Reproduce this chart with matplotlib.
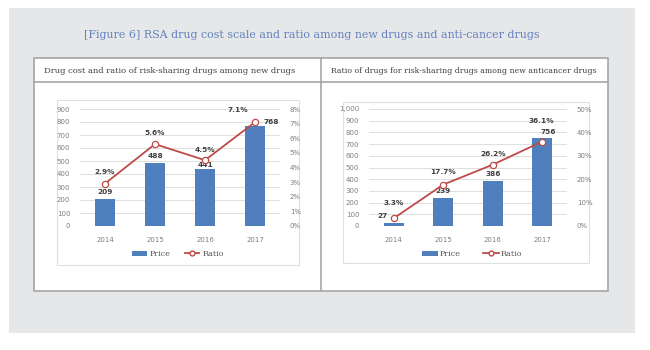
import matplotlib
matplotlib.use("Agg")
import matplotlib.pyplot as plt
from matplotlib.patches import Rectangle, Patch
from matplotlib.lines import Line2D

# data
years = ["2014", "2015", "2016", "2017"]
new_price = [209, 488, 441, 768]
new_ratio = [2.9, 5.6, 4.5, 7.1]
onco_price = [27, 239, 386, 756]
onco_ratio = [3.3, 17.7, 26.2, 36.1]

W, H = 650, 350
BLUE = "#4f7fbd"
RED = "#be4b48"
GRID = "#d9d9d9"
TICK = "#7f7f7f"
LABEL = "#404040"
SERIF = "DejaVu Serif"

fig = plt.figure(figsize=(W / 100, H / 100), dpi=100)
fig.patch.set_facecolor("white")


def rect(x0, y0, x1, y1, **kw):
    # pixel box (top-left origin) -> figure artist
    r = Rectangle((x0 / W, 1 - y1 / H), (x1 - x0) / W, (y1 - y0) / H,
                  transform=fig.transFigure, **kw)
    fig.add_artist(r)
    return r


def line(x0, y0, x1, y1, **kw):
    fig.add_artist(Line2D([x0 / W, x1 / W], [1 - y0 / H, 1 - y1 / H],
                          transform=fig.transFigure, **kw))


def axes_px(x0, y0, x1, y1):
    return fig.add_axes([x0 / W, 1 - y1 / H, (x1 - x0) / W, (y1 - y0) / H])


# background panel and outer box
rect(9, 8, 635, 333, facecolor="#e6e7e9", edgecolor="none", zorder=0)
rect(34, 58, 608, 291, facecolor="white", edgecolor="#a6a6a6", linewidth=1.2, zorder=1)
line(34, 82, 608, 82, color="#a6a6a6", linewidth=1.2, zorder=2)
line(321, 58, 321, 291, color="#a6a6a6", linewidth=1.2, zorder=2)

fig.text(312 / W, 1 - 35 / H,
         "[Figure 6] RSA drug cost scale and ratio among new drugs and anti-cancer drugs",
         ha="center", va="center", fontsize=7.9, color="#6482bd", family=SERIF)
fig.text(44 / W, 1 - 71 / H, "Drug cost and ratio of risk-sharing drugs among new drugs",
         ha="left", va="center", fontsize=6.0, color="#404040", family=SERIF)
fig.text(331 / W, 1 - 71 / H, "Ratio of drugs for risk-sharing drugs among new anticancer drugs",
         ha="left", va="center", fontsize=5.6, color="#404040", family=SERIF)

# inner chart frames
rect(57, 100, 299, 265, facecolor="white", edgecolor="#e0e0e0", linewidth=0.8, zorder=1)
rect(343, 102, 589, 263, facecolor="white", edgecolor="#e0e0e0", linewidth=0.8, zorder=1)


def draw(box, price, ratio, pmax, rmax, rstep, price_off, ratio_off, legend_x, legend_kw):
    ax = axes_px(*box)
    ax.set_zorder(3)
    x = range(len(years))
    ax.bar(x, price, width=0.4, color=BLUE, zorder=2)
    ax.set_xlim(-0.5, len(years) - 0.5)
    ax.set_ylim(0, pmax)
    ax.set_yticks(range(0, pmax + 1, 100))
    ax.set_yticklabels([f"{v:,}" for v in range(0, pmax + 1, 100)])
    ax.set_xticks(list(x))
    ax.set_xticklabels(years)
    ax.grid(axis="y", color=GRID, linewidth=0.6, zorder=0)
    ax.set_axisbelow(True)
    for s in ax.spines.values():
        s.set_visible(False)
    ax.tick_params(axis="both", length=0, labelsize=5, labelcolor=TICK)
    ax.tick_params(axis="y", pad=7)
    ax.tick_params(axis="x", pad=8)
    ax.patch.set_alpha(0)

    ax2 = ax.twinx()
    ax2.plot(x, ratio, color=RED, linewidth=1.3, marker="o", markersize=4.5,
             markerfacecolor="white", markeredgecolor=RED, markeredgewidth=0.9, zorder=4)
    ax2.set_ylim(0, rmax)
    ax2.set_yticks(range(0, rmax + 1, rstep))
    ax2.set_yticklabels([f"{v}%" for v in range(0, rmax + 1, rstep)])
    for s in ax2.spines.values():
        s.set_visible(False)
    ax2.tick_params(axis="y", length=0, labelsize=5, labelcolor=TICK, pad=7)

    for i, v in enumerate(price):
        dx, dy = price_off[i]
        ax.annotate(f"{v}", (i, v), xytext=(dx, dy), textcoords="offset points",
                    ha="center", va="center", fontsize=5.3, fontweight="bold", color=LABEL,
                    zorder=6)
    for i, v in enumerate(ratio):
        dx, dy = ratio_off[i]
        ax2.annotate(f"{v}%", (i, v), xytext=(dx, dy), textcoords="offset points",
                     ha="center", va="center", fontsize=5.3, fontweight="bold", color=LABEL,
                     zorder=6)

    handles = [Patch(facecolor=BLUE, edgecolor="none"),
               Line2D([], [], color=RED, linewidth=1.3, marker="o", markersize=3.5,
                      markerfacecolor="white", markeredgecolor=RED)]
    fig.legend(handles, ["Price", "Ratio"], loc="center", ncol=2, frameon=False,
               bbox_to_anchor=(legend_x / W, 1 - 254 / H),
               prop={"family": SERIF, "size": 5.8}, labelcolor="#595959",
               handleheight=0.6, **legend_kw)
    return ax, ax2


draw((80, 109, 280, 226), new_price, new_ratio, 900, 8, 1,
     price_off=[(0, 5), (0, 5), (0, 3), (12, 3)],
     ratio_off=[(0, 8), (0, 8), (0, 7), (-12, 9)],
     legend_x=178,
     legend_kw=dict(handlelength=1.8, handletextpad=0.4, columnspacing=1.7))

draw((369, 109, 567, 226), onco_price, onco_ratio, 1000, 50, 10,
     price_off=[(-8, 5), (0, 5), (0, 5), (4, 4)],
     ratio_off=[(0, 11), (0, 9), (0, 8), (-1, 15)],
     legend_x=472,
     legend_kw=dict(handlelength=2.0, handletextpad=0.2, columnspacing=2.8))

fig.savefig("out.png", dpi=100, facecolor=fig.get_facecolor())
